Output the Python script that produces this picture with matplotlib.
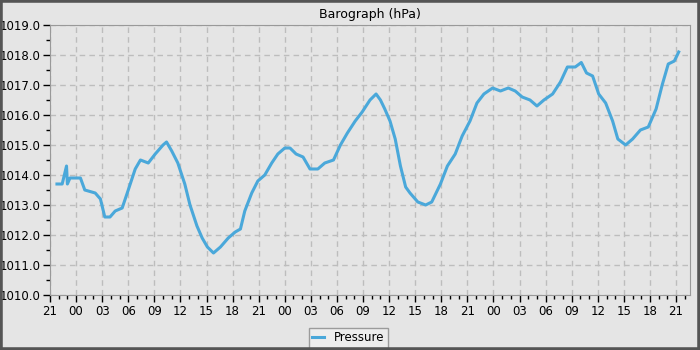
import matplotlib
matplotlib.use('Agg')
import matplotlib.pyplot as plt
from matplotlib.patches import Rectangle

# hours since 21:00 of the first day
hours = [0.8, 1.4, 1.9, 2.0, 2.3, 3.0, 3.5, 4.0, 4.6, 5.2, 5.8, 6.3, 6.9, 7.5, 8.3,
         9.0, 9.8, 10.4, 11.3, 12.1, 13.0, 13.4, 14.0, 14.7, 15.5, 16.1, 16.9, 17.5,
         18.1, 18.8, 19.6, 20.5, 21.3, 21.9, 22.4, 23.2, 23.9, 24.7, 25.5, 26.2, 27.0,
         27.6, 28.3, 29.1, 29.9, 30.8, 31.6, 32.6, 33.4, 34.2, 35.1, 35.9, 36.8, 37.5,
         38.0, 38.5, 39.1, 39.7, 40.3, 40.9, 41.4, 42.3, 43.2, 43.9, 44.9, 45.7, 46.6,
         47.4, 48.3, 49.1, 49.9, 50.9, 51.8, 52.7, 53.5, 54.3, 55.2, 56.0, 56.8, 57.8,
         58.7, 59.5, 60.4, 61.1, 61.7, 62.4, 63.1, 63.9, 64.7, 65.3, 66.2, 67.0, 67.9,
         68.8, 69.7, 70.4, 71.1, 71.8, 72.3]
pressure = [1013.7, 1013.7, 1014.3, 1013.7, 1013.9, 1013.9, 1013.9, 1013.5, 1013.45, 1013.4,
            1013.2, 1012.6, 1012.6, 1012.8, 1012.9, 1013.5, 1014.2, 1014.5, 1014.4, 1014.7,
            1015.0, 1015.1, 1014.8, 1014.4, 1013.7, 1013.0, 1012.3, 1011.9, 1011.6, 1011.4,
            1011.6, 1011.9, 1012.1, 1012.2, 1012.8, 1013.4, 1013.8, 1014.0, 1014.4, 1014.7,
            1014.9, 1014.9, 1014.7, 1014.6, 1014.2, 1014.2, 1014.4, 1014.5, 1015.0, 1015.4,
            1015.8, 1016.1, 1016.5, 1016.7, 1016.5, 1016.2, 1015.8, 1015.2, 1014.3, 1013.6,
            1013.4, 1013.1, 1013.0, 1013.1, 1013.7, 1014.3, 1014.7, 1015.3, 1015.8, 1016.4,
            1016.7, 1016.9, 1016.8, 1016.9, 1016.8, 1016.6, 1016.5, 1016.3, 1016.5, 1016.7,
            1017.1, 1017.6, 1017.6, 1017.75, 1017.4, 1017.3, 1016.7, 1016.4, 1015.8, 1015.2,
            1015.0, 1015.2, 1015.5, 1015.6, 1016.2, 1017.0, 1017.7, 1017.8, 1018.1]

tick_hours = list(range(0, 73, 3))
tick_labels = ['%02d' % ((21 + h) % 24) for h in tick_hours]

bg = '#e5e5e5'
fig = plt.figure(figsize=(7, 3.5), dpi=100, facecolor=bg)
ax = fig.add_axes([50/700, 1 - 295/350, 640/700, 270/350], facecolor=bg)

line, = ax.plot(hours, pressure, color='#4aa8da', lw=2.2)

ax.set_xlim(0, 73.6)
ax.set_ylim(1010, 1019)
ax.set_xticks(tick_hours)
ax.set_xticklabels(tick_labels)
ax.set_xticks(range(0, 74), minor=True)
ax.set_yticks([1010 + i for i in range(10)])
ax.set_yticklabels(['%.1f' % (1010 + i) for i in range(10)])
ax.set_yticks([1010.5 + i for i in range(9)], minor=True)

ax.grid(True, which='major', color='#bdbdbd', ls=(0, (4, 3)), lw=1)
for s in ax.spines.values():
    s.set_color('#999999')
ax.tick_params(which='major', length=5, width=1, color='black', labelsize=8.5, pad=2)
ax.tick_params(which='minor', length=3, width=1, color='black')

ax.set_title('Barograph (hPa)', fontsize=9, pad=5)

leg = ax.legend([line], ['Pressure'], loc='upper center', bbox_to_anchor=(0.466, -0.1),
                frameon=True, fancybox=False, fontsize=8.5, handlelength=1.0,
                borderpad=0.3, facecolor='#f0f0f0')
leg.get_frame().set_edgecolor('#888888')

fig.patches.append(Rectangle((0, 0), 1, 1, transform=fig.transFigure, fill=False,
                             edgecolor='#555555', lw=4))

fig.savefig('out.png', dpi=100, facecolor=bg)
